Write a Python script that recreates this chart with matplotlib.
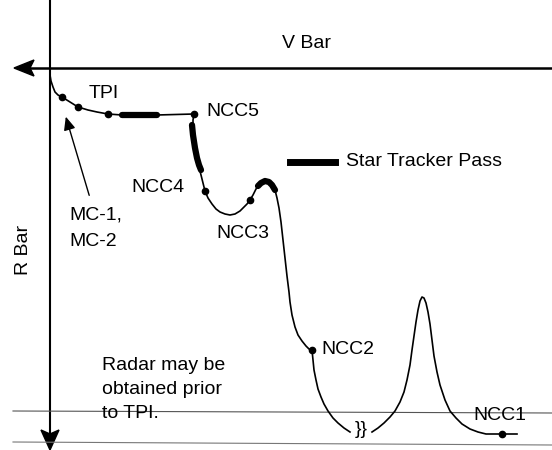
import matplotlib.pyplot as plt
from matplotlib.patches import Polygon

plt.rcParams['font.family'] = ['Liberation Sans', 'DejaVu Sans']

# trajectory in pixel units (x right, y down)
traj_x = [50, 50, 51, 53, 55, 58, 62, 70, 78, 88, 97, 108, 122, 157, 194,
          193, 193, 194, 195, 197, 199, 201, 203, 205, 208, 212, 216, 220, 225,
          230, 235, 240, 244, 247, 250, 253, 256, 260, 265, 269, 272, 275, 277,
          279, 281, 283, 285, 287, 289, 290, 292, 295, 298, 302, 306, 309, 312,
          313, 314, 316, 318, 321, 324, 328, 333, 338, 344, 350]
traj_y = [68, 75, 81, 87, 92, 95, 97, 102, 107, 110, 112, 114, 115, 115, 114,
          120, 128, 138, 148, 158, 167, 175, 183, 191, 198, 204, 209, 212, 214,
          215, 214, 211, 207, 204, 200, 195, 189, 184, 181, 182, 185, 190, 198,
          208, 222, 240, 258, 276, 292, 302, 315, 327, 335, 341, 346, 349, 350,
          360, 370, 380, 389, 397, 404, 411, 418, 423, 428, 432]
tail_x = [372, 378, 384, 390, 395, 400, 404, 407, 410, 412, 414, 416, 418,
          420, 422, 424, 426, 428, 430, 432, 434, 437, 440, 445, 450, 456,
          462, 470, 478, 486, 494, 502, 517]
tail_y = [432, 428, 423, 417, 411, 402, 392, 380, 365, 350, 336, 322, 310,
          301, 297, 298, 303, 312, 324, 340, 356, 372, 385, 400, 411, 418,
          424, 429, 432, 434, 434, 434, 434]

# star tracker passes
pass1_x, pass1_y = [122, 157], [115, 115]
pass2_x, pass2_y = [192, 193, 195, 197, 199, 201], [125, 135, 148, 158, 165, 170]
pass3_x, pass3_y = [258, 261, 265, 269, 272, 275], [186, 183, 181, 182, 185, 190]

# burns
burn_x = [62, 78, 108, 194, 205, 250, 312, 502]
burn_y = [97, 107, 114, 114, 191, 200, 350, 434]

labels = ['TPI', 'NCC5', 'NCC4', 'NCC3', 'NCC2', 'NCC1']
label_x = [89, 206, 131, 216, 321, 473]
label_y = [93, 112, 188, 233, 349, 415]

fs = 14

fig = plt.figure(figsize=(5.52, 4.5), dpi=100)
ax = fig.add_axes([0, 0, 1, 1])
ax.set_xlim(0, 552)
ax.set_ylim(450, 0)
ax.axis('off')

# V bar / R bar axes
ax.plot([30, 552], [68, 68], color='black', lw=1.8)
ax.add_patch(Polygon([[14, 68], [34, 60], [30, 68], [34, 76]], closed=True, color='black'))
ax.plot([50, 50], [0, 435], color='black', lw=1.5)
ax.add_patch(Polygon([[50, 450], [41, 430], [50, 434], [59, 430]], closed=True, color='black'))

# faint horizontal lines near the bottom
ax.plot([13, 552], [411, 413], color='#555555', lw=0.8)
ax.plot([13, 552], [442, 445], color='#777777', lw=0.8)

ax.text(307, 43, 'V Bar', fontsize=fs, ha='center', va='center')
ax.text(23, 250, 'R Bar', fontsize=fs, ha='center', va='center', rotation=90)

ax.plot(traj_x, traj_y, color='black', lw=1.2)
ax.plot(tail_x, tail_y, color='black', lw=1.2)
ax.text(361, 430, '}}', fontsize=14, ha='center', va='center')

for px, py in [(pass1_x, pass1_y), (pass2_x, pass2_y), (pass3_x, pass3_y)]:
    ax.plot(px, py, color='black', lw=4.5, solid_capstyle='round')
ax.plot(burn_x, burn_y, 'o', color='black', markersize=4.5)

for t, x, y in zip(labels, label_x, label_y):
    ax.text(x, y, t, fontsize=fs, ha='left', va='center')

# legend
ax.plot([290, 335], [162, 162], color='black', lw=5)
ax.text(346, 162, 'Star Tracker Pass', fontsize=fs, ha='left', va='center')

# MC-1, MC-2
ax.text(69, 215, 'MC-1,', fontsize=fs, ha='left', va='center')
ax.text(69, 241, 'MC-2', fontsize=fs, ha='left', va='center')
ax.annotate('', xy=(65, 114), xytext=(90, 198),
            arrowprops=dict(arrowstyle='-|>,head_length=0.8,head_width=0.35',
                            color='black', lw=1.0))

ax.text(102, 365, 'Radar may be', fontsize=fs, ha='left', va='center')
ax.text(102, 389, 'obtained prior', fontsize=fs, ha='left', va='center')
ax.text(102, 413, 'to TPI.', fontsize=fs, ha='left', va='center')

fig.savefig('out.png', dpi=100)
